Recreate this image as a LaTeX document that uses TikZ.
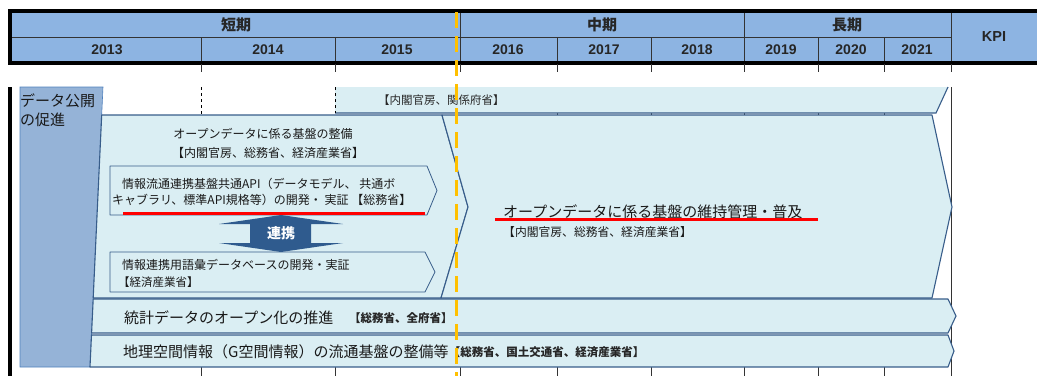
\documentclass[tikz,border=0pt]{standalone}
\usepackage{fontspec}
\setmainfont{Liberation Sans}
\newfontfamily\jp{Noto Sans CJK JP}
\usetikzlibrary{positioning}
\pgfdeclarelayer{background}
\pgfdeclarelayer{foreground}
\pgfsetlayers{background,main,foreground}
\definecolor{hdrblue}{HTML}{8DB4E2}
\definecolor{sideblue}{HTML}{95B3D7}
\definecolor{sideline}{HTML}{4F81BD}
\definecolor{rowfill}{HTML}{DAEEF3}
\definecolor{rowline}{HTML}{385D8A}
\definecolor{linkblue}{HTML}{2F5B8E}
\definecolor{kijun}{HTML}{FFC000}

\begin{document}
\begin{tikzpicture}[x=1pt,y=-1pt,
				yeartext/.style={font=\fontsize{14}{14}\selectfont\bfseries, text=black!85, inner sep=0pt},
				termtext/.style={font=\jp\fontsize{15}{15}\selectfont\bfseries, text=black!85, inner sep=0pt},
				jptext/.style={font=\jp\fontsize{12}{14}\selectfont, text=black!90, inner sep=0pt, anchor=west},
				bigtext/.style={font=\jp\fontsize{15}{15}\selectfont, text=black!90, inner sep=0pt, anchor=west},
				futext/.style={font=\jp\fontsize{11.5}{12}\selectfont\bfseries, text=black!85, inner sep=0pt, anchor=west},
				rowbox/.style={fill=rowfill, draw=rowline, line width=1.1pt, line join=round},
				subbox/.style={fill=rowfill, draw=rowline, line width=0.8pt, line join=round},
				gridline/.style={black!80, line width=0.7pt},
				redline/.style={red, line width=3pt},
				]
				\useasboundingbox (0,0) rectangle (1037,376);

				%Header
				\fill[hdrblue] (10,11) rectangle (1037,63);
				\draw[gridline] (10,37) -- (951,37);
				\foreach \x in {201,335,557,651,818,884}
					\draw[gridline] (\x,37) -- (\x,63);
				\foreach \x in {460,744,951}
					\draw[gridline] (\x,11) -- (\x,63);
				\draw[black, line width=3.5pt] (8,11) -- (1037,11);
				\draw[black, line width=3.5pt] (8,63) -- (1037,63);
				\draw[black, line width=3.5pt] (10,9.5) -- (10,64.5);

				\node[termtext] (short) at (236,25) {短期};
				\node[termtext] (mid)   at (602,25) {中期};
				\node[termtext] (long)  at (847,25) {長期};
				\node[yeartext, font=\fontsize{14.5}{14.5}\selectfont\bfseries] (kpi) at (994,37) {KPI};
				\node[yeartext] (y2013) at (107,50) {2013};
				\node[yeartext] (y2014) at (268,50) {2014};
				\node[yeartext] (y2015) at (397,50) {2015};
				\node[yeartext] (y2016) at (508,50) {2016};
				\node[yeartext] (y2017) at (604,50) {2017};
				\node[yeartext] (y2018) at (697,50) {2018};
				\node[yeartext] (y2019) at (781,50) {2019};
				\node[yeartext] (y2020) at (851,50) {2020};
				\node[yeartext] (y2021) at (917,50) {2021};

				%Grid ticks
				\foreach \x in {201,335,460,557,651,744,818,884,951} {
					\draw[gridline] (\x,64) -- (\x,72);
					\draw[gridline] (\x,367) -- (\x,376);
				}
				\draw[gridline] (951,87) -- (951,376);
				\foreach \x in {557,651,744,818,884}
					\draw[gridline, line width=0.5pt] (\x,112) -- (\x,116);
				\draw[black, line width=4pt] (10,87) -- (10,376);

				%Side label
				\draw[fill=sideblue, draw=sideline, line width=0.6pt] (20,87) -- (103,87) -- (90,367) -- (20,367) -- cycle;
				\node[bigtext, anchor=north west, align=left, font=\jp\fontsize{15}{19}\selectfont] (side) at (20,94) {データ公開\\の促進};

				%Top row
				\fill[rowfill] (335,87) -- (948,87) -- (936,113) -- (335,113) -- cycle;
				\draw[rowline, line width=1.1pt] (335,113) -- (936,113) -- (948,87);
				\draw[black, dashed, line width=0.7pt] (335,87) -- (335,113);
				\draw[black, dashed, line width=0.7pt] (201,87) -- (201,114);
				\node[futext, font=\jp\fontsize{11.5}{12}\selectfont] (topfu) at (378,100) {【内閣官房、関係府省】};

				%Open data rows
				\draw[rowbox] (101.7,115) -- (442,115) -- (468,207) -- (441,298) -- (93.2,298) -- cycle;
				\draw[rowbox] (442,115) -- (932,115) -- (952,207) -- (932,298) -- (441,298) -- (468,207) -- cycle;
				\draw[subbox] (110,166) -- (427,166) -- (437,190.5) -- (427,215) -- (110,215) -- cycle;
				\draw[subbox] (110,252) -- (425,252) -- (435,272) -- (425,292) -- (110,292) -- cycle;
				\draw[rowbox] (93.2,299) -- (948,299) -- (956,316) -- (948,333) -- (91.6,333) -- cycle;
				\draw[rowbox] (91.5,335) -- (948,335) -- (954,351) -- (948,367) -- (90,367) -- cycle;

				\node[jptext, anchor=center] (kiban) at (263,134) {オープンデータに係る基盤の整備};
				\node[jptext, anchor=center] (kibanfu) at (268,153) {【内閣官房、総務省、経済産業省】};
				\node[jptext] (api1) at (122,184) {情報流通連携基盤共通API（データモデル、 共通ボ};
				\node[jptext] (api2) at (112,200) {キャブラリ、標準API規格等）の開発・ 実証 【総務省】};
				\node[jptext] (goi1) at (122,265) {情報連携用語彙データベースの開発・実証};
				\node[jptext, font=\jp\fontsize{11.5}{12}\selectfont] (goi2) at (118,282) {【経済産業省】};
				\node[bigtext] (iji) at (503,212) {オープンデータに係る基盤の維持管理・普及};
				\node[jptext, font=\jp\fontsize{11.8}{12}\selectfont] (ijifu) at (503,232) {【内閣官房、総務省、経済産業省】};
				\node[bigtext] (toukei) at (124,318) {統計データのオープン化の推進};
				\node[futext] (toukeifu) at (349,318) {【総務省、全府省】};
				\node[bigtext] (chiri) at (123,352) {地理空間情報（G空間情報）の流通基盤の整備等};
				\node[futext] (chirifu) at (chiri.east) {【総務省、国土交通省、経済産業省】};

				%Link arrow
				\fill[linkblue] (281,215) -- (343,224) -- (311,224) -- (311,243) -- (343,243) -- (281,252) -- (219,243) -- (250,243) -- (250,224) -- (219,224) -- cycle;
				\node[termtext, text=white, font=\jp\fontsize{14}{14}\selectfont\bfseries] (renkei) at (281,233.5) {連携};

				%Underlines
				\draw[redline] (123,213) -- (425,213);
				\draw[redline] (495,219) -- (818,219);

				\begin{pgfonlayer}{foreground}
				\draw[kijun, line width=3pt, dash pattern=on 16pt off 8pt] (456,12) -- (456,376);
				\end{pgfonlayer}
\end{tikzpicture}
\end{document}
